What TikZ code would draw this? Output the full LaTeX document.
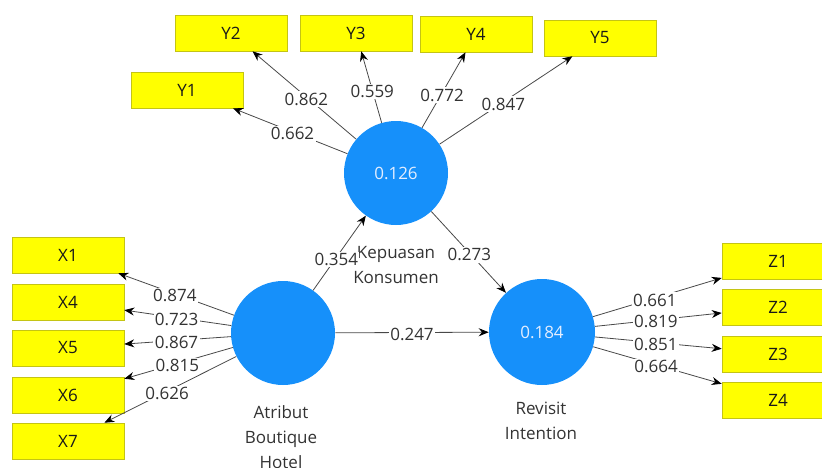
\documentclass[tikz,border=0pt]{standalone}
\usepackage{fontspec}
\setmainfont{Open Sans}
\usetikzlibrary{arrows.meta}
\definecolor{lvblue}{RGB}{22,144,250}
\definecolor{lvtext}{RGB}{228,238,255}
\definecolor{mvyellow}{RGB}{255,255,0}
\definecolor{mvborder}{RGB}{196,196,20}
\definecolor{pathgray}{RGB}{72,72,72}
\begin{document}
\begin{tikzpicture}[x=0.75pt, y=-0.75pt, >={Stealth[length=7.5pt,width=6pt,color=black]},
    font=\fontsize{12.75}{18.75}\selectfont,
    latent/.style={circle, fill=lvblue, text=lvtext, minimum size=78pt, inner sep=0pt},
    indicator/.style={rectangle, draw=mvborder, fill=mvyellow, text=black!90, minimum width=84pt, minimum height=27pt, inner sep=0pt},
    loading/.style={->, draw=pathgray, line width=0.6pt},
    coef/.style={fill=white, inner sep=1pt, text=black!80, yshift=-1.5pt},
    lvname/.style={align=center, text=black!80}]
    \useasboundingbox (0,0) rectangle (822,468);
    \clip (0,0) rectangle (822,468);

    % Latent variables
    \node[latent] (K) at (396,173) {0.126};
    \node[latent] (A) at (283,333) {};
    \node[latent, minimum size=79.5pt] (R) at (542,332) {0.184};
    \node[lvname] (Klab) at (396,265) {Kepuasan\\Konsumen};
    \node[lvname] (Alab) at (281,437) {Atribut\\Boutique\\Hotel};
    \node[lvname] (Rlab) at (541,421) {Revisit\\Intention};

    % Indicators
    \node[indicator] (Y1) at (187,90) {Y1};
    \node[indicator] (Y2) at (231,33) {Y2};
    \node[indicator] (Y3) at (356,33) {Y3};
    \node[indicator] (Y4) at (476,34) {Y4};
    \node[indicator] (Y5) at (600,38) {Y5};
    \node[indicator] (X1) at (68,255) {X1};
    \node[indicator] (X4) at (68,302) {X4};
    \node[indicator] (X5) at (68,348) {X5};
    \node[indicator] (X6) at (68,395) {X6};
    \node[indicator] (X7) at (68,441) {X7};
    \node[indicator] (Z1) at (778,261) {Z1};
    \node[indicator] (Z2) at (778,307) {Z2};
    \node[indicator] (Z3) at (778,354) {Z3};
    \node[indicator] (Z4) at (778,400) {Z4};

    % Outer loadings
    \draw[loading] (K) -- (Y1) node[coef, pos=0.48] (cY1) {0.662};
    \draw[loading] (K) -- (Y2) node[coef, pos=0.48] (cY2) {0.862};
    \draw[loading] (K) -- (Y3) node[coef, pos=0.46] (cY3) {0.559};
    \draw[loading] (K) -- (Y4) node[coef, pos=0.46] (cY4) {0.772};
    \draw[loading] (K) -- (Y5) node[coef, pos=0.48] (cY5) {0.847};
    \draw[loading] (A) -- (X1) node[coef, pos=0.51] (cX1) {0.874};
    \draw[loading] (A) -- (X4) node[coef, pos=0.51] (cX4) {0.723};
    \draw[loading] (A) -- (X5) node[coef, pos=0.51] (cX5) {0.867};
    \draw[loading] (A) -- (X6) node[coef, pos=0.51] (cX6) {0.815};
    \draw[loading] (A) -- (X7) node[coef, pos=0.525] (cX7) {0.626};
    \draw[loading] (R) -- (Z1) node[coef, pos=0.48] (cZ1) {0.661};
    \draw[loading] (R) -- (Z2) node[coef, pos=0.48] (cZ2) {0.819};
    \draw[loading] (R) -- (Z3) node[coef, pos=0.48] (cZ3) {0.851};
    \draw[loading] (R) -- (Z4) node[coef, pos=0.49] (cZ4) {0.664};

    % Path coefficients
    \draw[loading] (A) -- (K) node[coef, pos=0.44] (cAK) {0.354};
    \draw[loading] (K) -- (R) node[coef, pos=0.51] (cKR) {0.273};
    \draw[loading] (A) -- (R) node[coef, pos=0.5] (cAR) {0.247};
\end{tikzpicture}
\end{document}
